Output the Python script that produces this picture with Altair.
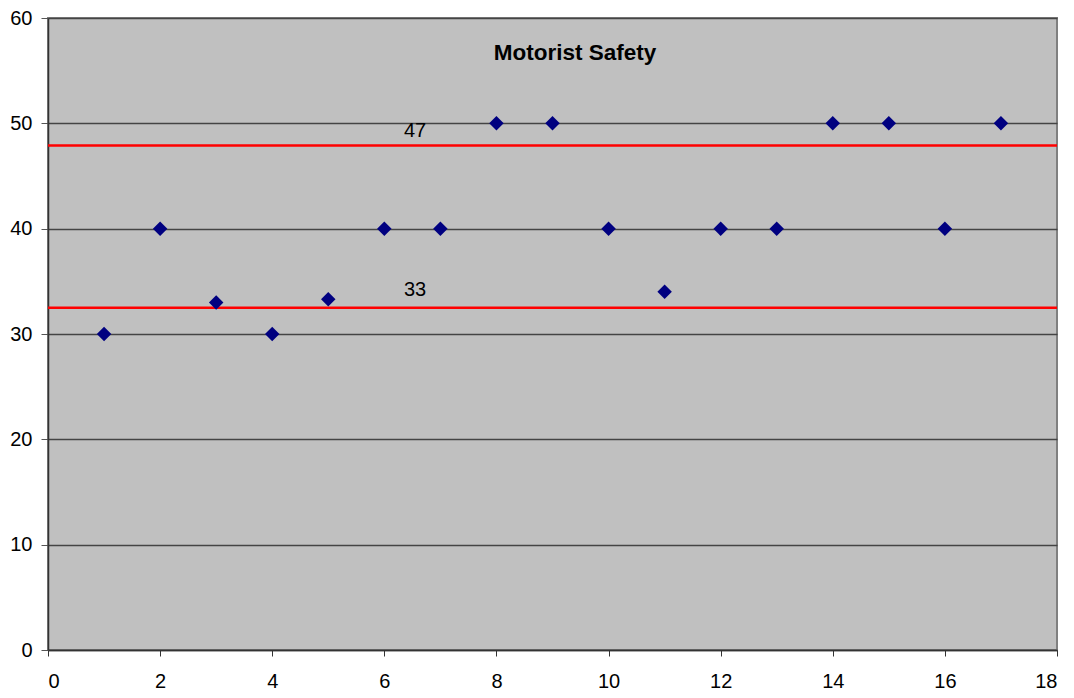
import altair as alt
import pandas as pd

# Observations per sample number
sample = [1, 2, 3, 4, 5, 6, 7, 8, 9, 10, 11, 12, 13, 14, 15, 16, 17]
score = [30, 40, 33, 30, 33.3, 40, 40, 50, 50, 40, 34, 40, 40, 50, 50, 40, 50]

# Upper / lower limit lines and their labels
limit_values = [47.9, 32.5]
limit_labels = ["47", "33"]
label_x = [6.35, 6.35]
label_y = [49.3, 34.2]

points = pd.DataFrame({"sample": sample, "score": score})
limits = pd.DataFrame({"limit": limit_values})
labels = pd.DataFrame({"x": label_x, "y": label_y, "text": limit_labels})
title_df = pd.DataFrame({"x": [9.4], "y": [56.7], "text": ["Motorist Safety"]})

x_scale = alt.Scale(domain=[0, 18], nice=False, zero=True)
y_scale = alt.Scale(domain=[0, 60], nice=False)

x_axis = alt.Axis(values=list(range(0, 19, 2)), format="d", title=None,
                  grid=False, tickSize=6, tickColor="#333333",
                  domainColor="#333333", domainWidth=1.5, labelFontSize=20,
                  labelColor="#000000", labelPadding=15,
                  labelFont="Liberation Sans")
y_axis = alt.Axis(values=list(range(0, 61, 10)), format="d", title=None,
                  grid=True, gridColor="#444444", gridWidth=1.5, tickSize=7,
                  tickColor="#555555", domainColor="#333333", domainWidth=1.5,
                  labelFontSize=20, labelColor="#000000", labelPadding=9,
                  labelFont="Liberation Sans")

scatter = alt.Chart(points).mark_point(
    shape="diamond", filled=True, size=210, color="#000080", opacity=1
).encode(
    x=alt.X("sample:Q", scale=x_scale, axis=x_axis),
    y=alt.Y("score:Q", scale=y_scale, axis=y_axis),
)

rules = alt.Chart(limits).mark_rule(color="#FF0000", strokeWidth=2.5).encode(
    y=alt.Y("limit:Q", scale=y_scale)
)

limit_text = alt.Chart(labels).mark_text(
    align="left", baseline="middle", fontSize=20, font="Liberation Sans",
    color="#000000"
).encode(
    x=alt.X("x:Q", scale=x_scale),
    y=alt.Y("y:Q", scale=y_scale),
    text="text:N",
)

title_text = alt.Chart(title_df).mark_text(
    align="center", baseline="middle", fontSize=22.5, fontWeight="bold",
    font="Liberation Sans", color="#000000"
).encode(
    x=alt.X("x:Q", scale=x_scale),
    y=alt.Y("y:Q", scale=y_scale),
    text="text:N",
)

chart = alt.layer(rules, scatter, limit_text, title_text).properties(
    width=1009,
    height=632,
    autosize="none",
    padding={"left": 48, "top": 18, "right": 17, "bottom": 48},
    background="#FFFFFF",
).configure_view(
    fill="#C0C0C0", stroke="#808080", strokeWidth=2
)

chart.save("out.html", embed_options={"renderer": "svg", "actions": False})
